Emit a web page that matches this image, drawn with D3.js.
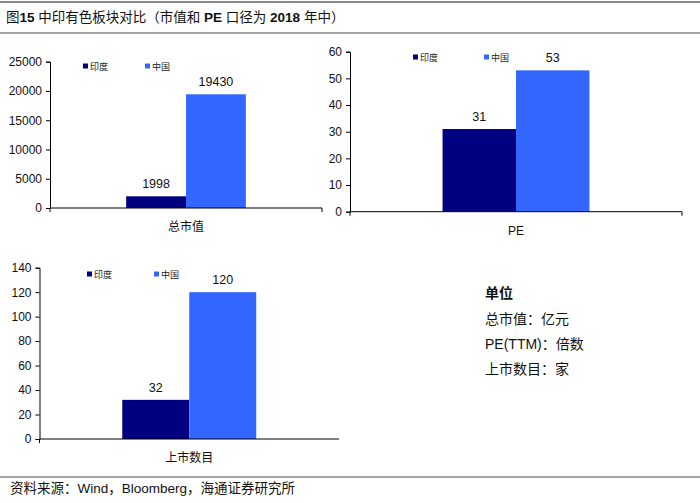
<!DOCTYPE html>
<html>
<head>
<meta charset="utf-8">
<script src="https://cdn.jsdelivr.net/npm/d3@7"></script>
<style>
  body { margin: 0; background: #fff; }
  svg { display: block; }
</style>
</head>
<body>
<div id="chart"></div>
<script>
// data
var categories = ['总市值', 'PE', '上市数目'];
var series = ['印度', '中国'];
var india = [1998, 31, 32];
var china = [19430, 53, 120];
var yMax = [25000, 60, 140];
var yStep = [5000, 10, 20];
var units = ['总市值：亿元', 'PE(TTM)：倍数', '上市数目：家'];

var colors = ['#000080', '#3366ff'];
var W = 700, H = 503;

var svg = d3.select('#chart').append('svg')
  .attr('width', W).attr('height', H)
  .style('font-family', '"Liberation Sans", Arial, "Noto Sans CJK SC", sans-serif');

// title + rules
svg.append('line').attr('x1', 0).attr('x2', W).attr('y1', 2).attr('y2', 2)
  .attr('stroke', '#888').attr('stroke-width', 2);
svg.append('line').attr('x1', 0).attr('x2', W).attr('y1', 33).attr('y2', 33)
  .attr('stroke', '#888').attr('stroke-width', 1.5);
var title = svg.append('text').attr('x', 6).attr('y', 22)
  .style('font-family', '"Liberation Sans", "Noto Sans CJK SC", sans-serif')
  .style('font-size', '13.5px').attr('fill', '#111');
[['图', 0], ['15', 1], [' 中印有色板块对比（市值和 ', 0], ['PE', 1], [' 口径为 ', 0], ['2018', 1], [' 年中）', 0]]
  .forEach(function (t) {
    title.append('tspan').style('font-weight', t[1] ? 'bold' : 'normal').text(t[0]);
  });

// panel boxes (layout only)
var panels = [
  { l: 50, r: 322, t: 61.7, b: 208, pad: 0.636, endTick: true, legY: 66, legX: [83, 145] },
  { l: 350, r: 682, t: 51.7, b: 211.7, pad: 0.63, endTick: true, legY: 57, legX: [413, 484] },
  { l: 39.5, r: 339, t: 267.7, b: 439, pad: 0.618, endTick: false, legY: 274, legX: [87, 154] }
];

panels.forEach(function (p, i) {
  var g = svg.append('g');
  var y = d3.scaleLinear().domain([0, yMax[i]]).range([p.b, p.t]);
  var x0 = d3.scaleBand().domain([categories[i]]).range([p.l, p.r]).paddingInner(0).paddingOuter(p.pad);
  var x1 = d3.scaleBand().domain(series).range([0, x0.bandwidth()]);
  var vals = [india[i], china[i]];

  var ticks = d3.range(0, yMax[i] + 1, yStep[i]);
  var yAxis = g.append('g').attr('transform', 'translate(' + p.l + ',0)')
    .call(d3.axisLeft(y).tickValues(ticks).tickSize(4).tickPadding(4).tickFormat(d3.format('d')));
  yAxis.select('.domain').attr('stroke', '#000');
  yAxis.selectAll('line').attr('stroke', '#000');
  yAxis.selectAll('text').style('font-size', '12px').attr('fill', '#111');

  g.selectAll('rect.bar').data(vals).enter().append('rect')
    .attr('x', function (d, j) { return x0(categories[i]) + x1(series[j]); })
    .attr('y', function (d) { return y(d); })
    .attr('width', x1.bandwidth())
    .attr('height', function (d) { return p.b - y(d); })
    .attr('fill', function (d, j) { return colors[j]; });

  g.selectAll('text.val').data(vals).enter().append('text')
    .attr('x', function (d, j) { return x0(categories[i]) + x1(series[j]) + x1.bandwidth() / 2; })
    .attr('y', function (d) { return y(d) - 8; })
    .attr('text-anchor', 'middle')
    .style('font-size', '12.5px').attr('fill', '#111')
    .text(function (d) { return d; });

  // x axis
  var endT = p.endTick ? 4 : 0;
  g.append('path')
    .attr('d', 'M' + p.l + ',' + (p.b + 4) + 'V' + p.b + 'H' + p.r + 'V' + (p.b + endT))
    .attr('fill', 'none').attr('stroke', '#000');
  g.append('text')
    .attr('x', x0(categories[i]) + x0.bandwidth() / 2)
    .attr('y', p.b + 23)
    .attr('text-anchor', 'middle')
    .style('font-family', '"Liberation Sans", "Noto Sans CJK SC", sans-serif')
    .style('font-size', '12px').attr('fill', '#111')
    .text(categories[i]);

  // legend
  series.forEach(function (s, j) {
    g.append('rect').attr('x', p.legX[j]).attr('y', p.legY - 2.5).attr('width', 5).attr('height', 5)
      .attr('fill', colors[j]);
    g.append('text').attr('x', p.legX[j] + 7).attr('y', p.legY + 3.5)
      .style('font-family', '"Noto Sans CJK SC", sans-serif')
      .style('font-size', '9px').attr('fill', '#222')
      .text(s);
  });
});

// unit note
svg.append('text').attr('x', 485).attr('y', 298)
  .style('font-family', '"Noto Sans CJK SC", sans-serif')
  .style('font-size', '14px').style('font-weight', 'bold').attr('fill', '#111')
  .text('单位');
svg.selectAll('text.unit').data(units).enter().append('text')
  .attr('x', 485)
  .attr('y', function (d, k) { return 324 + k * 25; })
  .style('font-family', '"Liberation Sans", "Noto Sans CJK SC", sans-serif')
  .style('font-size', '14px').attr('fill', '#111')
  .text(function (d) { return d; });

// footer
svg.append('line').attr('x1', 0).attr('x2', W).attr('y1', 477).attr('y2', 477)
  .attr('stroke', '#888').attr('stroke-width', 1.5);
svg.append('text').attr('x', 10).attr('y', 493)
  .style('font-family', '"Liberation Sans", "Noto Sans CJK SC", sans-serif')
  .style('font-size', '13.5px').attr('fill', '#111')
  .text('资料来源：Wind，Bloomberg，海通证券研究所');
</script>
</body>
</html>
